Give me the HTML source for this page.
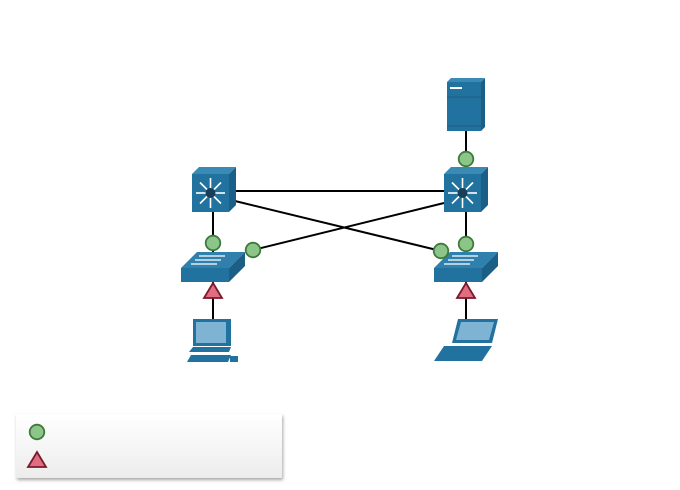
<!DOCTYPE html>
<html><head><style>body{margin:0;background:#fff}svg{display:block}</style></head><body>
<svg width="680" height="490" viewBox="0 0 680 490" xmlns="http://www.w3.org/2000/svg">
<defs>
<linearGradient id="lg" x1="0" y1="0" x2="0" y2="1"><stop offset="0" stop-color="#fff"/><stop offset="1" stop-color="#ececec"/></linearGradient>
<filter id="sh"><feDropShadow dx="1" dy="2" stdDeviation="1.5" flood-color="#000" flood-opacity="0.35"/></filter>
<g id="l3">
<polygon points="0,7 7,0 44,0 37,7" fill="#3a8ab6"/>
<polygon points="37,7 44,0 44,38 37,45" fill="#1b5f86"/>
<rect x="0" y="7" width="37" height="38" fill="#22729f"/>
<g stroke="#fff" stroke-width="1.6">
<line x1="18.5" y1="26" x2="18.5" y2="11"/><line x1="18.5" y1="26" x2="18.5" y2="41"/>
<line x1="18.5" y1="26" x2="4" y2="26"/><line x1="18.5" y1="26" x2="33" y2="26"/>
<line x1="18.5" y1="26" x2="8" y2="15.5"/><line x1="18.5" y1="26" x2="29" y2="15.5"/>
<line x1="18.5" y1="26" x2="8" y2="36.5"/><line x1="18.5" y1="26" x2="29" y2="36.5"/>
</g>
<circle cx="18.5" cy="26" r="5" fill="#173f57"/>
</g>
<g id="sw">
<polygon points="0,16 16,0 64,0 48,16" fill="#2f80ad"/>
<polygon points="48,16 64,0 64,14 48,30" fill="#1b5f86"/>
<rect x="0" y="16" width="48" height="14" fill="#22729f"/>
<g stroke="#fff" stroke-width="1.3"><line x1="18" y1="4" x2="44" y2="4"/><line x1="14" y1="8" x2="40" y2="8"/><line x1="10" y1="12" x2="36" y2="12"/></g>
</g>
</defs>
<g stroke="#000" stroke-width="2" fill="none">
<line x1="235" y1="191" x2="444" y2="191"/>
<line x1="235" y1="201" x2="441" y2="251"/>
<line x1="253" y1="250" x2="444" y2="203"/>
<line x1="213" y1="212" x2="213" y2="252"/>
<line x1="466" y1="131" x2="466" y2="252"/>
<line x1="213" y1="282" x2="213" y2="320"/>
<line x1="466" y1="282" x2="466" y2="320"/>
</g>
<!-- server -->
<polygon points="447,82 451,78 485,78 481,82" fill="#3a8ab6"/>
<polygon points="481,82 485,78 485,127 481,131" fill="#1b5f86"/>
<rect x="447" y="82" width="34" height="49" fill="#22729f"/>
<rect x="450" y="87" width="12" height="2" fill="#fff"/>
<line x1="447" y1="97" x2="481" y2="97" stroke="#1b5f86"/>
<line x1="447" y1="126" x2="481" y2="126" stroke="#1b5f86"/>
<use href="#l3" x="192" y="167"/>
<use href="#l3" x="444" y="167"/>
<use href="#sw" x="181" y="252"/>
<use href="#sw" x="434" y="252"/>
<!-- PC -->
<rect x="193" y="319" width="38" height="27" fill="#22729f"/>
<rect x="196" y="322" width="30" height="21" fill="#7fb3d4"/>
<polygon points="189,352 193,347 231,347 229,352" fill="#22729f"/>
<polygon points="187,362 191,355 231,355 228,362" fill="#22729f"/>
<rect x="230" y="356" width="8" height="6" fill="#22729f"/>
<!-- laptop -->
<polygon points="452,343 458,319 498,319 492,343" fill="#22729f"/>
<polygon points="456,340 461,322 494,322 489,340" fill="#7fb3d4"/>
<polygon points="434,361 444,346 492,346 482,361" fill="#22729f"/>
<g fill="#8cc58a" stroke="#3e7a3a" stroke-width="1.8">
<circle cx="213" cy="243" r="7.3"/><circle cx="253" cy="250" r="7.3"/>
<circle cx="441" cy="251" r="7.3"/><circle cx="466" cy="244" r="7.3"/>
<circle cx="466" cy="159" r="7.3"/>
</g>
<g fill="#e06d80" stroke="#7a1a2c" stroke-width="1.8">
<polygon points="213,283 222,298 204,298"/><polygon points="466,283 475,298 457,298"/>
</g>
<rect x="16" y="414" width="266" height="64" fill="url(#lg)" filter="url(#sh)"/>
<circle cx="37" cy="432" r="7.3" fill="#8cc58a" stroke="#3e7a3a" stroke-width="1.8"/>
<polygon points="37,452 46,467 28,467" fill="#e06d80" stroke="#7a1a2c" stroke-width="1.8"/>
</svg>
</body></html>
